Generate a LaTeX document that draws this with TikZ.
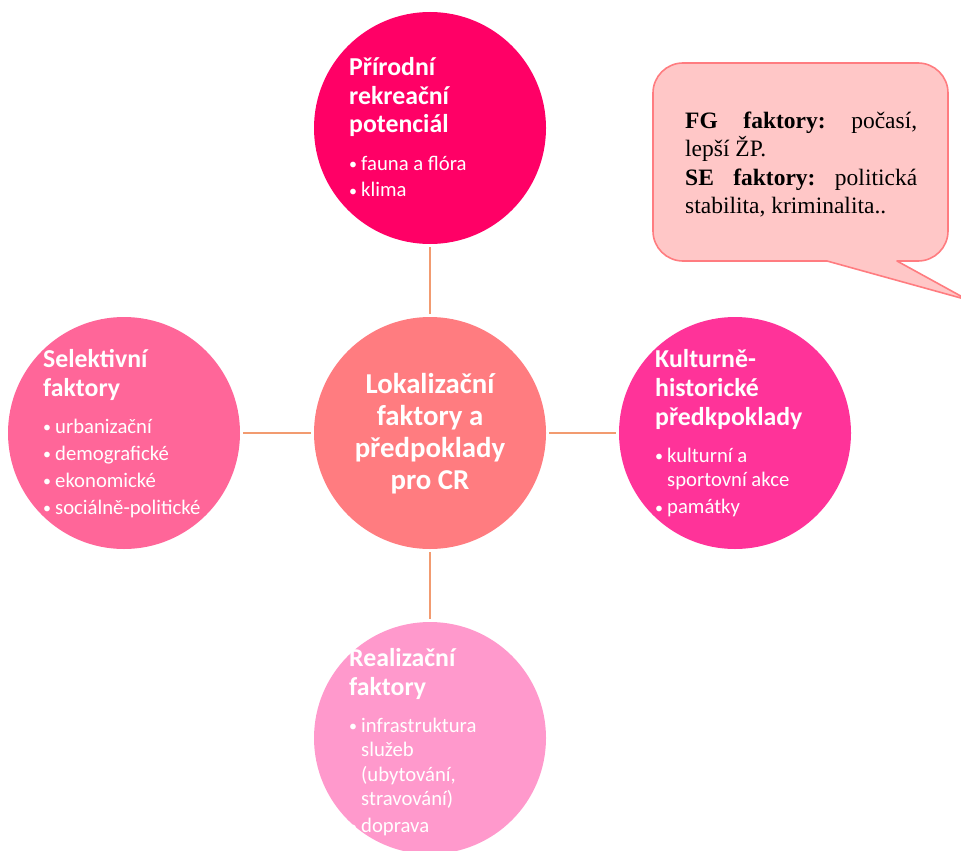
\documentclass[tikz,border=0pt]{standalone}
\usepackage{fontspec}
\setmainfont{Carlito}
\newfontfamily\timesfont{Liberation Serif}
\definecolor{cTop}{HTML}{FF0066}
\definecolor{cCenter}{HTML}{FF7C80}
\definecolor{cLeft}{HTML}{FF6699}
\definecolor{cRight}{HTML}{FF3399}
\definecolor{cBottom}{HTML}{FF99CC}
\definecolor{cConn}{HTML}{F29B70}
\definecolor{cCallFill}{HTML}{FFC7C7}
\definecolor{cCallLine}{HTML}{FF7C80}
\newcommand{\bitem}[1]{\par\hangindent=12pt\hangafter=1\noindent\makebox[12pt][l]{\fontsize{16}{16}\selectfont\raisebox{0.5pt}{•}}#1}
\newcommand{\circtext}[2]{\parbox[t]{250pt}{\raggedright\setlength\parskip{2.5pt}%
  \fontsize{25.8}{29}\selectfont\bfseries #1\par\vspace{10pt}%
  \fontsize{20.7}{24.5}\selectfont\mdseries #2\par}}
\tikzset{
  circ/.style={circle, minimum size=232pt, inner sep=0pt, draw=none},
  conn/.style={draw=cConn, line width=2.8pt, shorten <=3pt, shorten >=3pt},
  ctext/.style={anchor=base west, inner sep=0pt, text=white},
}
\begin{document}
\begin{tikzpicture}[x=1pt,y=-1pt]
\useasboundingbox (0,0) rectangle (961,851);
% circles
\node[circ, fill=cTop] (top) at (430,128) {};
\node[circ, fill=cCenter] (center) at (430,433) {};
\node[circ, fill=cLeft] (left) at (124,433) {};
\node[circ, fill=cRight] (right) at (735,433) {};
\node[circ, fill=cBottom] (bottom) at (430,738) {};
% connectors
\draw[conn] (top) -- (center);
\draw[conn] (left) -- (center);
\draw[conn] (center) -- (right);
\draw[conn] (center) -- (bottom);
% texts
\node[ctext] (ttop) at (349,75) {\circtext{Přírodní\\rekreační\\potenciál}{\bitem{fauna a flóra}\bitem{klima}}};
\node[ctext] (tleft) at (43,367) {\circtext{Selektivní\\faktory}{\bitem{urbanizační}\bitem{demografické}\bitem{ekonomické}\bitem{sociálně-politické}}};
\node[ctext] (tright) at (655,367) {\circtext{Kulturně-\\historické\\předkpoklady}{\bitem{kulturní a\newline sportovní akce}\bitem{památky}}};
\node[ctext] (tbottom) at (349,666) {\circtext{Realizační\\faktory}{\bitem{infrastruktura\newline služeb\newline (ubytování,\newline stravování)}\bitem{doprava}}};
\node[anchor=base, inner sep=0pt, text=white] (tcenter) at (430,393) {\parbox[t]{220pt}{\centering\fontsize{28.8}{32}\selectfont\bfseries Lokalizační\\faktory a\\předpoklady\\pro CR}};
% callout
\draw[draw=cCallLine, fill=cCallFill, line width=1.6pt, line join=round]
  (827,261) -- (683,261) arc[start angle=90, end angle=180, radius=30]
  -- (653,93) arc[start angle=180, end angle=270, radius=30]
  -- (918,63) arc[start angle=270, end angle=360, radius=30]
  -- (948,231) arc[start angle=0, end angle=90, radius=30]
  -- (897,261) -- (968,300) -- cycle;
\node[anchor=base west, inner sep=0pt] (tcall) at (685,128) {\parbox[t]{232pt}{\timesfont\fontsize{23.5}{28.5}\selectfont
  \hbox to 232pt{\textbf{FG}\hfill\textbf{faktory:}\hfill počasí,}
  \hbox{lepší ŽP.}
  \hbox to 232pt{\textbf{SE}\hfill\textbf{faktory:}\hfill politická}
  \hbox{stabilita, kriminalita..}}};
\end{tikzpicture}
\end{document}
